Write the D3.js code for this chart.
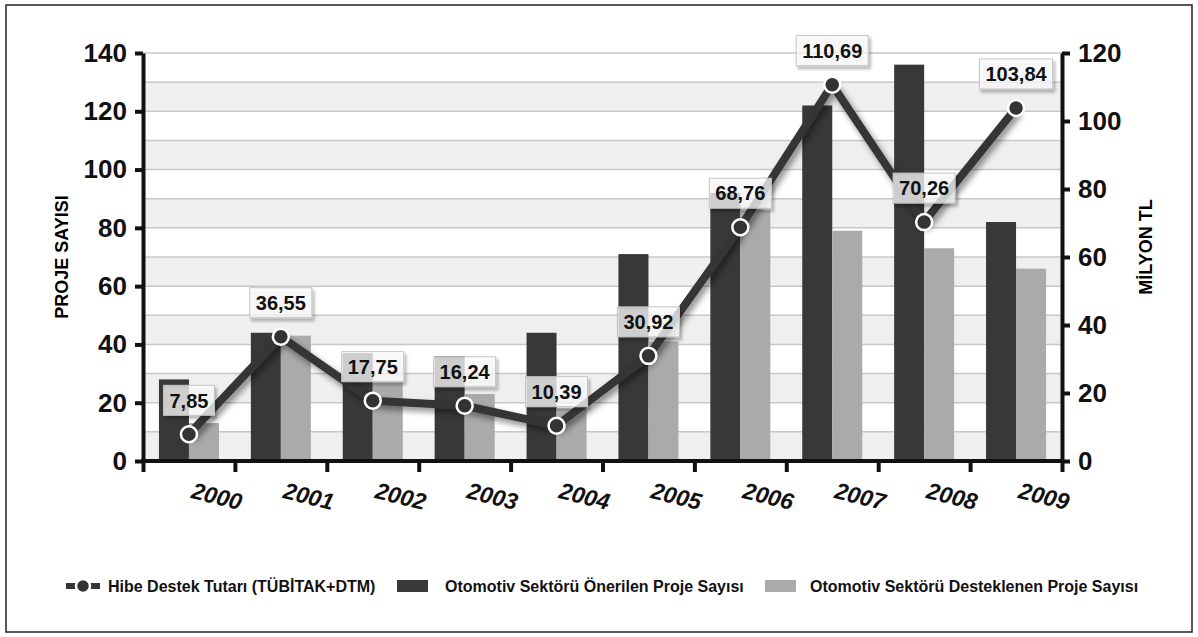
<!DOCTYPE html>
<html>
<head>
<meta charset="utf-8">
<script src="https://cdn.jsdelivr.net/npm/d3@7"></script>
<style>
  body { margin: 0; background: #fff; }
  svg { display: block; font-family: "Liberation Sans", Arial, sans-serif; }
</style>
</head>
<body>
<div id="viz"></div>
<script>
const years = ["2000", "2001", "2002", "2003", "2004", "2005", "2006", "2007", "2008", "2009"];
const proposed = [28, 44, 37, 36, 44, 71, 92, 122, 136, 82];
const supported = [13, 43, 27, 23, 18, 41, 86, 79, 73, 66];
const grant = [7.85, 36.55, 17.75, 16.24, 10.39, 30.92, 68.76, 110.69, 70.26, 103.84];
const leftTicks = [0, 20, 40, 60, 80, 100, 120, 140];
const rightTicks = [0, 20, 40, 60, 80, 100, 120];
const legendLabels = [
  "Hibe Destek Tutarı (TÜBİTAK+DTM)",
  "Otomotiv Sektörü Önerilen Proje Sayısı",
  "Otomotiv Sektörü Desteklenen Proje Sayısı"
];

const W = 1198, H = 637;
const plot = {left: 143, right: 1062, top: 53, bottom: 461};

const svg = d3.select("#viz").append("svg")
  .attr("width", W)
  .attr("height", H);

const defs = svg.append("defs");
defs.append("filter").attr("id", "shadow")
  .attr("x", "-20%").attr("y", "-20%").attr("width", "150%").attr("height", "150%")
  .append("feDropShadow")
    .attr("dx", 3).attr("dy", 4).attr("stdDeviation", 3)
    .attr("flood-color", "#000").attr("flood-opacity", 0.45);
defs.append("filter").attr("id", "boxshadow")
  .attr("x", "-20%").attr("y", "-20%").attr("width", "150%").attr("height", "150%")
  .append("feDropShadow")
    .attr("dx", 2).attr("dy", 3).attr("stdDeviation", 1.5)
    .attr("flood-color", "#000").attr("flood-opacity", 0.35);
defs.append("filter").attr("id", "blur")
  .append("feGaussianBlur").attr("stdDeviation", 2);

// frame
svg.append("rect")
  .attr("x", 6).attr("y", 5)
  .attr("width", W - 12).attr("height", H - 10)
  .attr("fill", "none")
  .attr("stroke", "#222")
  .attr("stroke-width", 1.5);

const x0 = d3.scaleBand()
  .domain(years)
  .range([plot.left, plot.right])
  .paddingInner(0.347)
  .paddingOuter(0.1735);

const x1 = d3.scaleBand()
  .domain(["proposed", "supported"])
  .range([0, x0.bandwidth()]);

const yL = d3.scaleLinear().domain([0, 140]).range([plot.bottom, plot.top]);
const yR = d3.scaleLinear().domain([0, 120]).range([plot.bottom, plot.top]);

// alternating bands + grid
svg.append("g").selectAll("rect")
  .data(d3.range(0, 140, 20))
  .join("rect")
    .attr("x", plot.left)
    .attr("y", d => yL(d + 10))
    .attr("width", plot.right - plot.left)
    .attr("height", d => yL(d) - yL(d + 10))
    .attr("fill", "#efefef");

svg.append("g").selectAll("line")
  .data(d3.range(10, 150, 10))
  .join("line")
    .attr("x1", plot.left).attr("x2", plot.right)
    .attr("y1", d => yL(d)).attr("y2", d => yL(d))
    .attr("stroke", "#c8c8c8")
    .attr("stroke-width", 1.5);

// bars
const groups = svg.append("g").selectAll("g")
  .data(years)
  .join("g")
    .attr("transform", d => `translate(${x0(d)},0)`);

groups.append("rect")
  .attr("x", x1("proposed"))
  .attr("y", (d, i) => yL(proposed[i]))
  .attr("width", x1.bandwidth())
  .attr("height", (d, i) => plot.bottom - yL(proposed[i]))
  .attr("fill", "#383838");

groups.append("rect")
  .attr("x", x1("supported"))
  .attr("y", (d, i) => yL(supported[i]))
  .attr("width", x1.bandwidth())
  .attr("height", (d, i) => plot.bottom - yL(supported[i]))
  .attr("fill", "#aaaaaa");

// line
const cx = (d, i) => x0(years[i]) + x0.bandwidth() / 2;
const line = d3.line()
  .x((d, i) => cx(d, i))
  .y(d => yR(d));

svg.append("path")
  .datum(grant)
  .attr("d", line)
  .attr("fill", "none")
  .attr("stroke", "#363636")
  .attr("stroke-width", 8)
  .attr("stroke-linejoin", "round")
  .attr("filter", "url(#shadow)");

svg.append("g").selectAll("circle")
  .data(grant)
  .join("circle")
    .attr("cx", cx)
    .attr("cy", d => yR(d))
    .attr("r", 8)
    .attr("fill", "#333")
    .attr("stroke", "#fff")
    .attr("stroke-width", 2.5);

// value labels
const fmt = v => v.toFixed(2).replace(".", ",");
const labels = svg.append("g").selectAll("g")
  .data(grant)
  .join("g")
    .attr("transform", (d, i) => `translate(${cx(d, i)},${yR(d) - 34})`);

labels.append("rect");
labels.append("text")
  .attr("text-anchor", "middle")
  .attr("dy", "0.36em")
  .style("font-size", "20px")
  .style("font-weight", "bold")
  .attr("fill", "#111")
  .text(d => fmt(d));

labels.each(function() {
  const g = d3.select(this);
  const w = g.select("text").node().getComputedTextLength() + 12;
  g.select("rect")
    .attr("x", -w / 2).attr("y", -15)
    .attr("width", w).attr("height", 30)
    .attr("fill", "#fff")
    .attr("fill-opacity", 0.72)
    .attr("stroke", "#c4c4c4")
    .attr("stroke-width", 1)
    .attr("filter", "url(#boxshadow)");
});

// axes
const axL = svg.append("g")
  .attr("transform", `translate(${plot.left},0)`)
  .call(d3.axisLeft(yL).tickValues(leftTicks).tickSize(8).tickSizeOuter(0).tickPadding(8));
const axR = svg.append("g")
  .attr("transform", `translate(${plot.right},0)`)
  .call(d3.axisRight(yR).tickValues(rightTicks).tickSize(8).tickSizeOuter(0).tickPadding(8));

const xb = d3.scaleLinear().domain([0, years.length]).range([plot.left, plot.right]);
const axB = svg.append("g")
  .attr("transform", `translate(0,${plot.bottom})`)
  .call(d3.axisBottom(xb).tickValues(d3.range(years.length + 1)).tickSize(11).tickSizeOuter(0).tickFormat(""));

[axL, axR, axB].forEach(ax => {
  ax.select(".domain").attr("stroke", "#111").attr("stroke-width", 4);
  ax.selectAll(".tick line").attr("stroke", "#111").attr("stroke-width", 4);
  ax.selectAll(".tick text")
    .attr("fill", "#111")
    .style("font-size", "26px")
    .style("font-weight", "bold")
    .style("font-family", "'Liberation Sans', Arial, sans-serif");
});
axB.select(".domain").attr("d", `M${plot.left - 2},0H${plot.right + 2}`);

// year labels
svg.append("g").selectAll("text")
  .data(years)
  .join("text")
    .attr("transform", d => `translate(${x0(d) + x0.bandwidth() / 2 + 26},504) rotate(14)`)
    .attr("text-anchor", "middle")
    .style("font-size", "23px")
    .style("font-weight", "bold")
    .style("font-style", "italic")
    .attr("fill", "#111")
    .text(d => d);

// axis titles
svg.append("text")
  .attr("transform", "translate(68,257) rotate(-90)")
  .attr("text-anchor", "middle")
  .style("font-size", "18px")
  .style("font-weight", "bold")
  .text("PROJE SAYISI");

svg.append("text")
  .attr("transform", "translate(1152,247) rotate(-90)")
  .attr("text-anchor", "middle")
  .style("font-size", "18px")
  .style("font-weight", "bold")
  .text("MİLYON TL");

// legend
const ly = 586;
const leg = svg.append("g");
leg.append("line")
  .attr("x1", 66).attr("x2", 100)
  .attr("y1", ly + 2).attr("y2", ly + 2)
  .attr("stroke", "#555").attr("stroke-width", 8)
  .attr("filter", "url(#blur)");
leg.append("line")
  .attr("x1", 66).attr("x2", 100)
  .attr("y1", ly).attr("y2", ly)
  .attr("stroke", "#363636").attr("stroke-width", 6);
leg.append("circle")
  .attr("cx", 83).attr("cy", ly).attr("r", 7)
  .attr("fill", "#333").attr("stroke", "#fff").attr("stroke-width", 2.5);
leg.append("rect")
  .attr("x", 397).attr("y", ly - 6).attr("width", 31).attr("height", 12)
  .attr("fill", "#383838");
leg.append("rect")
  .attr("x", 765).attr("y", ly - 6).attr("width", 31).attr("height", 12)
  .attr("fill", "#aaaaaa");

leg.selectAll("text.lbl")
  .data(legendLabels)
  .join("text")
    .attr("class", "lbl")
    .attr("x", (d, i) => [108, 445, 810][i])
    .attr("y", ly)
    .attr("dy", "0.36em")
    .style("font-size", "16px")
    .style("font-weight", "bold")
    .attr("fill", "#111")
    .text(d => d);
</script>
</body>
</html>
